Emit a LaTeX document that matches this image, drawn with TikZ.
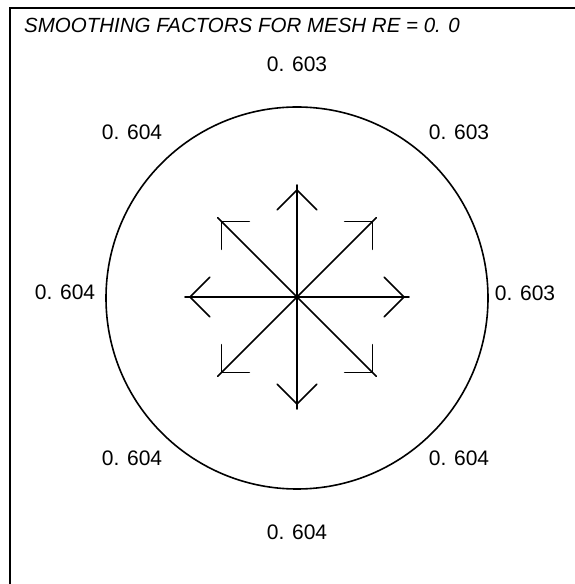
\documentclass[tikz,border=0pt]{standalone}
\usepackage{fontspec}
\setmainfont{Liberation Sans}
\usetikzlibrary{calc}
\begin{document}
\begin{tikzpicture}[x=1pt,y=1pt,
  lbl/.style={font=\fontsize{21}{24}\selectfont, inner sep=0pt},
  ttl/.style={font=\fontsize{20.5}{24}\selectfont\itshape, inner sep=0pt, anchor=west},
  stroke/.style={line width=1.6pt, line cap=round}]
\useasboundingbox (0,0) rectangle (575,584);
\fill[white] (0,0) rectangle (575,584);
% frame (top and left edges)
\coordinate (fbl) at (10,0);
\coordinate (ftl) at (10,576);
\coordinate (ftr) at (575,576);
\draw[line width=1.6pt] (fbl) -- (ftl) -- (ftr);
% title
\node[ttl] (title) at (24,559) {SMOOTHING FACTORS FOR MESH RE = 0. 0};
% circle
\node[draw, circle, line width=1.6pt, minimum size=382pt, inner sep=0pt] (circ) at (297,286) {};
% star of arrows
\coordinate (c) at (297,287);
\foreach \a in {0,45,...,315}{
  \coordinate (e\a) at ($(c)+(\a:112)$);
  \coordinate (h\a) at ($(c)+(\a:107)$);
  \draw[stroke] (c) -- (e\a);
  \draw[stroke] ($(h\a)+(\a+135:28)$) -- (h\a) -- ($(h\a)+(\a-135:28)$);
}
\fill (c) circle (2.2pt);
% labels
\node[lbl] (l90)  at (297,520) {0. 603};
\node[lbl] (l45)  at (459,452) {0. 603};
\node[lbl] (l0)   at (525,291) {0. 603};
\node[lbl] (l315) at (459,126) {0. 604};
\node[lbl] (l270) at (297,52)  {0. 604};
\node[lbl] (l225) at (132,126) {0. 604};
\node[lbl] (l180) at (65,292)  {0. 604};
\node[lbl] (l135) at (132,452) {0. 604};
\end{tikzpicture}
\end{document}
